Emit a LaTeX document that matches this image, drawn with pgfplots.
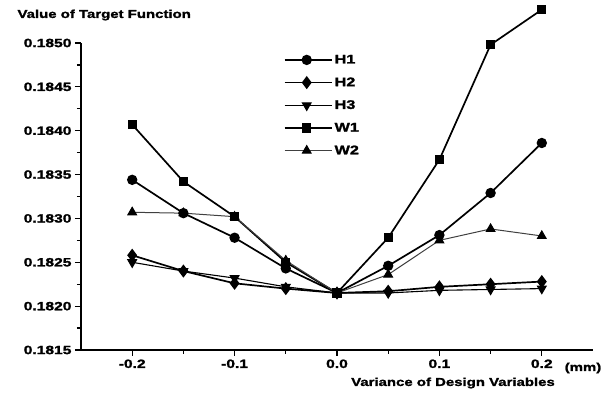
\documentclass[border=0pt]{standalone}
\usepackage{fontspec}
\setmainfont{Liberation Sans}[FakeStretch=1.3, BoldFeatures={FakeBold=1.6}]
\usepackage{pgfplots}
\pgfplotsset{compat=1.18}
\usepackage{pgfplotstable}
\pgfplotstableread{
x H1 H2 H3 W1 W2
-0.20 0.18344 0.18258 0.18250 0.18407 0.18307
-0.15 0.18306 0.18240 0.18240 0.18342 0.18306
-0.10 0.18278 0.18226 0.18232 0.18302 0.18302
-0.05 0.18243 0.18220 0.18222 0.18250 0.18252
0.00 0.18215 0.18215 0.18215 0.18215 0.18215
0.05 0.18246 0.18217 0.18215 0.18278 0.18236
0.10 0.18281 0.18222 0.18218 0.18367 0.18275
0.15 0.18329 0.18225 0.18219 0.18498 0.18288
0.20 0.18386 0.18228 0.18220 0.18538 0.18280
}\datatable
\begin{document}
\begin{tikzpicture}
\path[use as bounding box] (-81pt,-53pt) rectangle (535pt,350pt);
\begin{axis}[
  scale only axis, width=512pt, height=307pt,
  at={(0pt,0pt)}, anchor=south west,
  xmin=-0.25, xmax=0.25, ymin=0.1815, ymax=0.1850,
  axis lines*=left, axis line style={line width=1.5pt},
  clip=false,
  xtick={-0.2,-0.1,0,0.1,0.2},
  ytick={0.1815,0.1820,0.1825,0.1830,0.1835,0.1840,0.1845,0.1850},
  minor x tick num=1, minor y tick num=1,
  tick align=outside, major tick length=6pt, minor tick length=4pt,
  every tick/.style={line width=1.2pt, black},
  scaled ticks=false,
  /pgf/number format/assume math mode=true,
  xticklabel style={/pgf/number format/.cd, fixed, fixed zerofill, precision=1},
  yticklabel style={/pgf/number format/.cd, fixed, fixed zerofill, precision=4},
  ticklabel style={font=\fontsize{12}{14}\selectfont\bfseries},
  legend style={draw=none, fill=none, at={(0.39,0.975)}, anchor=north west,
    font=\fontsize{12.5}{15}\selectfont\bfseries, row sep=8.5pt,
    /tikz/every even column/.append style={column sep=20pt}},
  legend cell align=left,
  legend image code/.code={\draw[mark repeat=2,mark phase=2,#1] plot coordinates {(0pt,0pt) (22pt,0pt) (47pt,0pt)};},
]
\addplot[black, line width=1.7pt, mark=*, mark size=4.3pt] table[x=x,y=H1] {\datatable};
\addlegendentry{H1}
\addplot[black, line width=1.7pt, mark=diamond*, mark size=5.2pt] table[x=x,y=H2] {\datatable};
\addlegendentry{H2}
\addplot[black, line width=1.1pt, mark=triangle*, mark size=5pt, mark options={rotate=180}] table[x=x,y=H3] {\datatable};
\addlegendentry{H3}
\addplot[black, line width=1.7pt, mark=square*, mark size=3.8pt] table[x=x,y=W1] {\datatable};
\addlegendentry{W1}
\addplot[black!75, line width=1pt, mark=triangle*, mark size=5pt, mark options={black}] table[x=x,y=W2] {\datatable};
\addlegendentry{W2}
\end{axis}
\node[anchor=west, font=\fontsize{11.5}{13}\selectfont\bfseries] at (-67pt,335pt) {Value of Target Function};
\node[font=\fontsize{11.5}{13}\selectfont\bfseries] at (372pt,-33pt) {Variance of Design Variables};
\node[font=\fontsize{11.5}{13}\selectfont\bfseries] at (502pt,-18pt) {(mm)};
\end{tikzpicture}
\end{document}
